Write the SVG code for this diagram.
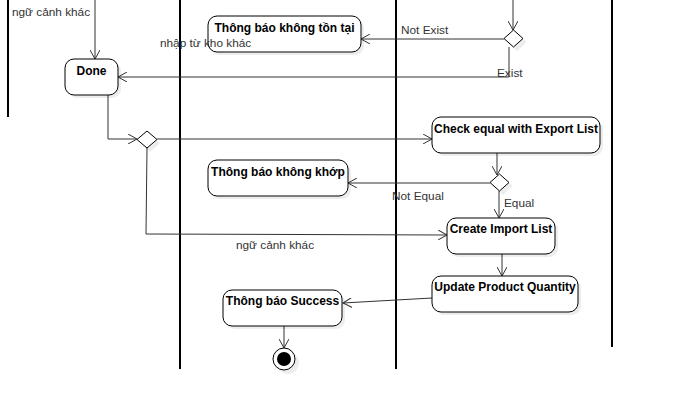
<svg xmlns="http://www.w3.org/2000/svg" width="697" height="406" viewBox="0 0 697 406">
<defs>
<style>
.lane{stroke:#000;stroke-width:2;fill:none}
.node{fill:#fff;stroke:#000;stroke-width:1}
.shadow{fill:#000;opacity:0.07}
.lbl{font-family:"Liberation Sans",Arial,sans-serif;font-size:12px;font-weight:bold;fill:#000}
.elbl{font-family:"Liberation Sans",Arial,sans-serif;font-size:11.8px;fill:#333}
.edge{stroke:#333;stroke-width:1;fill:none}
</style>
<marker id="arr" viewBox="0 0 10 10" refX="9" refY="5" markerWidth="10" markerHeight="10" markerUnits="userSpaceOnUse" orient="auto">
<path d="M0,0 L9,5 L0,10" fill="none" stroke="#333" stroke-width="1"/>
</marker>
</defs>
<rect width="697" height="406" fill="#fff"/>
<g id="lanes">
<line class="lane" x1="8" y1="0" x2="8" y2="117"/>
<line class="lane" x1="180" y1="0" x2="180" y2="369"/>
<line class="lane" x1="396" y1="0" x2="396" y2="369"/>
<line class="lane" x1="612" y1="0" x2="612" y2="347"/>
</g>
<g id="connectors">
<path class="edge" d="M95,0 L95,59" marker-end="url(#arr)"/>
<path class="edge" d="M513,0 L513,30" marker-end="url(#arr)"/>
<path class="edge" d="M504,39 L361,39" marker-end="url(#arr)"/>
<path class="edge" d="M509,47 L509,77 L118,77" marker-end="url(#arr)"/>
<path class="edge" d="M108,95 L108,139 L137,139" marker-end="url(#arr)"/>
<path class="edge" d="M157,139 L432,139" marker-end="url(#arr)"/>
<path class="edge" d="M497,153 L497,175" marker-end="url(#arr)"/>
<path class="edge" d="M490,183 L348,183" marker-end="url(#arr)"/>
<path class="edge" d="M499,191 L499,218" marker-end="url(#arr)"/>
<path class="edge" d="M147,148 L146,234 L447,235" marker-end="url(#arr)"/>
<path class="edge" d="M502,254 L502,276" marker-end="url(#arr)"/>
<path class="edge" d="M432,298 L343,303" marker-end="url(#arr)"/>
<path class="edge" d="M284,326 L284,348" marker-end="url(#arr)"/>
</g>
<g id="n-notexist">
<rect class="shadow" x="211" y="19" width="153" height="36" rx="9"/>
<rect class="node" x="208" y="16" width="153" height="36" rx="9"/>
<text class="lbl" x="284.5" y="32" text-anchor="middle">Thông báo không tồn tại</text>
</g>
<g id="n-done">
<rect class="shadow" x="68" y="62" width="53" height="36" rx="9"/>
<rect class="node" x="65" y="59" width="53" height="36" rx="9"/>
<text class="lbl" x="91.5" y="75" text-anchor="middle">Done</text>
</g>
<g id="d-exist">
<path class="shadow" d="M517,33 L527,42 L517,51 L507,42 Z"/>
<path class="node" d="M513.5,30 L523,38.5 L513.5,47 L504,38.5 Z"/>
</g>
<g id="d-context">
<path class="shadow" d="M150,134 L160,143 L150,152 L140,143 Z"/>
<path class="node" d="M147,131 L157,139.5 L147,148 L137,139.5 Z"/>
</g>
<g id="n-check">
<rect class="shadow" x="435" y="120" width="168" height="36" rx="9"/>
<rect class="node" x="432" y="117" width="168" height="36" rx="9"/>
<text class="lbl" x="516" y="133" text-anchor="middle">Check equal with Export List</text>
</g>
<g id="d-equal">
<path class="shadow" d="M503,177 L513,186 L503,195 L493,186 Z"/>
<path class="node" d="M499.5,174 L509,182.5 L499.5,191 L490,182.5 Z"/>
</g>
<g id="n-notmatch">
<rect class="shadow" x="211" y="163" width="140" height="36" rx="9"/>
<rect class="node" x="208" y="160" width="140" height="36" rx="9"/>
<text class="lbl" x="278" y="176" text-anchor="middle">Thông báo không khớp</text>
</g>
<g id="n-create">
<rect class="shadow" x="450" y="221" width="108" height="36" rx="9"/>
<rect class="node" x="447" y="218" width="108" height="36" rx="9"/>
<text class="lbl" x="501" y="233" text-anchor="middle">Create Import List</text>
</g>
<g id="n-update">
<rect class="shadow" x="435" y="279" width="146" height="36" rx="9"/>
<rect class="node" x="432" y="276" width="146" height="36" rx="9"/>
<text class="lbl" x="505" y="291" text-anchor="middle">Update Product Quantity</text>
</g>
<g id="n-success">
<rect class="shadow" x="226" y="293" width="119" height="36" rx="9"/>
<rect class="node" x="223" y="290" width="119" height="36" rx="9"/>
<text class="lbl" x="282.5" y="305" text-anchor="middle">Thông báo Success</text>
</g>
<g id="n-end">
<circle class="shadow" cx="288" cy="363" r="11"/>
<circle cx="284" cy="359" r="11" fill="#fff" stroke="#000" stroke-width="1"/>
<circle cx="284" cy="359" r="7" fill="#000"/>
</g>
<g id="edge-labels">
<text class="elbl" x="12" y="16">ngữ cảnh khác</text>
<text class="elbl" x="160" y="47">nhập từ kho khác</text>
<text class="elbl" x="401" y="34">Not Exist</text>
<text class="elbl" x="497" y="77">Exist</text>
<text class="elbl" x="392" y="200">Not Equal</text>
<text class="elbl" x="504" y="207">Equal</text>
<text class="elbl" x="236" y="249">ngữ cảnh khác</text>
</g>
</svg>
